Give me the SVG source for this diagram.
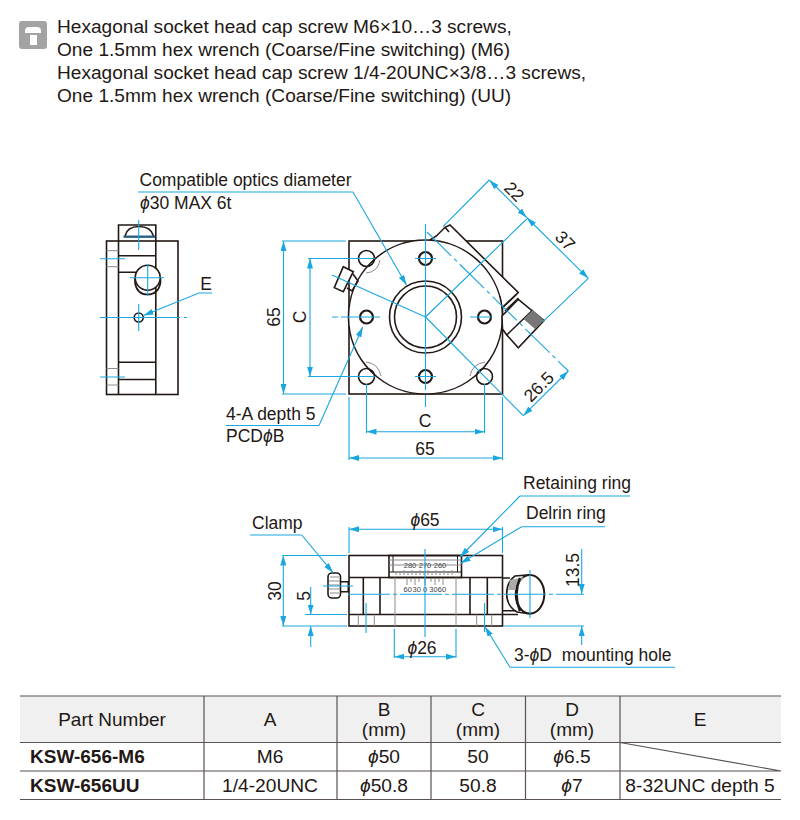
<svg xmlns="http://www.w3.org/2000/svg" width="800" height="820" viewBox="0 0 800 820">
<defs>
<marker id="a" viewBox="0 0 10 6" refX="10" refY="3" markerWidth="10" markerHeight="6" markerUnits="userSpaceOnUse" orient="auto-start-reverse"><path d="M0 0L10 3L0 6Z" fill="#1aa7e0"/></marker>
</defs>
<style>
text{font-family:"Liberation Sans",Arial,sans-serif;fill:#231815}
.t{font-size:19.100px}
.d{font-size:17.500px;white-space:pre}
.m{text-anchor:middle}
.s{font-size:7.500px;text-anchor:middle;fill:#444}
.h{font-size:19px;text-anchor:middle}
.c{font-size:19.200px;text-anchor:middle}
.b{font-size:19px;font-weight:bold}
.p{font-style:italic}
.k,.k *{fill:none;stroke:#231815;stroke-width:1.6}
.w{fill:#fff !important}
.g,.g *{fill:none;stroke:#8c8c8c;stroke-width:1}
.n{fill:none;stroke:#1aa7e0;stroke-width:1.1}
.ar{marker-start:url(#a);marker-end:url(#a)}
.ae{marker-end:url(#a)}
.tl{stroke:#5a5350;stroke-width:1.2;fill:none}
</style>
<rect width="800" height="820" fill="#fff"/>

<g id="note">
<rect x="19" y="21" width="28" height="28" rx="3" fill="#a3a3a3"/>
<path d="M25 33V31Q25 27 29 27H37Q41 27 41 31V33Z" fill="#fff"/>
<rect x="30" y="35" width="7" height="10" fill="#fff"/>
<text class="t" x="57" y="33">Hexagonal socket head cap screw M6×10…3 screws,</text>
<text class="t" x="57" y="55.500">One 1.5mm hex wrench (Coarse/Fine switching) (M6)</text>
<text class="t" x="57" y="79">Hexagonal socket head cap screw 1/4-20UNC×3/8…3 screws,</text>
<text class="t" x="57" y="101.500">One 1.5mm hex wrench (Coarse/Fine switching) (UU)</text>
</g>

<g id="side-view">
<g class="k">
<rect x="106.500" y="241" width="71.500" height="153.500"/>
<path d="M118.500 241V394.500M155.800 241V394.500M118.500 241V225H155.800V241"/>
<path d="M125 236Q127 226.500 139 226.500Q151 226.500 153.500 236"/>
<path d="M118.500 255.700H155.800M118.500 272.300H137M118.500 362.300H155.800M118.500 379.500H155.800"/>
<path d="M135 278V283Q137 294.500 147.700 294.500Q158 294.500 160.500 283V278"/>
<circle class="w" cx="147.700" cy="277.700" r="12.500"/>
<circle cx="138.700" cy="317.500" r="4.500"/>
</g>
<path d="M123.500 236.700H155" stroke="#2b5f83" stroke-width="2.400" fill="none"/>
<g class="g"><path d="M106.500 250.700H118.500M106.500 266.700H118.500M106.500 368.500H118.500M106.500 385H118.500"/></g>
</g>

<g id="top-view">
<g class="k">
<rect x="349" y="241" width="153.500" height="153"/>
<path class="w" d="M430 240L436.700 235.700L445 227.300L450 225L518.300 292.500L502 308L500 297Z"/>
<circle class="w" cx="425.500" cy="317" r="77"/>
<circle cx="425.500" cy="317" r="36" stroke-width="2.200"/>
<circle cx="425.500" cy="317" r="31" stroke-width="1.800"/>
<circle cx="366.500" cy="258.500" r="8"/>
<circle cx="366.500" cy="376.500" r="8"/>
<circle cx="484.500" cy="376.500" r="8"/>
<circle cx="425.500" cy="258.500" r="6.500" style="stroke-width:2.200"/>
<circle cx="366.500" cy="317" r="6.500" style="stroke-width:2.200"/>
<circle cx="484.500" cy="317" r="6.500" style="stroke-width:2.200"/>
<circle cx="425.500" cy="376.500" r="6.500" style="stroke-width:2.200"/>
<path d="M445 227.300L449 232"/>
<path d="M501.700 308.300L516.700 294M505 311L518.500 298"/>
<path class="w" d="M518.300 299.300L544 320.500L518.300 347.700L506.700 335L502.500 329L502 316Z"/>
<path d="M532.700 310L506.700 335"/>
<path class="w" d="M343.300 266.700L353.300 271.700L343.300 291.700L334.300 287.700Z"/>
<path d="M353 274L358 281L352 291L347 288"/>
</g>
<path d="M532.700 310L544 320.500L535 329L523.500 319Z" fill="#777"/>
<g class="g" style="stroke:#777"><path d="M366 273Q378 272 380 260"/><path d="M366 362Q378 363 381 376"/><path d="M470 376Q472 364 485 362"/></g>
</g>

<g id="front-view">
<g class="k">
<rect x="349" y="555.500" width="153.500" height="70.500"/>
<path d="M349 577.500H502.500M349 614.500H502.500M363.300 577.500V614.500M380 577.500V614.500M470 577.500V614.500M487.300 577.500V614.500"/>
<rect x="389" y="555.500" width="72.500" height="22"/>
<path d="M389 572H461.500M393 555.500V572M457.500 555.500V572" style="stroke-width:1"/>
<rect class="w" x="328" y="573" width="12.500" height="25" rx="4"/>
<path d="M340.500 581.700H348.300V591.700H340.500"/>
<path d="M502.500 578H510M502.500 610.700H518M502.500 614.500H518"/>
<path class="w" d="M530 574.800L515 576Q506.700 582 506.700 594Q506.700 606 517 612L530 613.800Z"/>
<ellipse class="w" cx="530" cy="594.300" rx="14.300" ry="19.300" style="stroke-width:2"/>
</g>
<path d="M510 580L524 577Q518 584 517 590L508 590Z" fill="#aaa"/>
<path d="M520 578Q513 594 520 611" fill="none" stroke="#231815" stroke-width="2.500"/>
<g class="g">
<path d="M389 560H461.500M389 565H461.500"/>
<path d="M395 577.500V626M456 577.500V626M358.300 614.500V626M374.300 614.500V626M476.700 614.500V626M491.700 614.500V626"/>
<path d="M396 575V571M400 575V572M404 575V570M408 575V572M412 575V570M416 575V572M420 575V570M424 575V572M428 575V570M432 575V572M436 575V570M440 575V572M444 575V570M448 575V572M452 575V570"/>
<path d="M407 578V585M411 578V582M415 578V585M419 578V582M425 578V585M431 578V582M435 578V585M439 578V582M443 578V585"/>
<path d="M330 577H339M329 581H340M329 585H340M329 589H340M330 593H339"/>
</g>
<text class="s" x="410" y="567.500">280</text>
<text class="s" x="425" y="567.500">270</text>
<text class="s" x="440" y="567.500">260</text>
<text class="s" x="407.700" y="591.500">60</text>
<text class="s" x="416.700" y="591.500">30</text>
<text class="s" x="425" y="591.500">0</text>
<text class="s" x="433.500" y="591.500">30</text>
<text class="s" x="442" y="591.500">60</text>
</g>

<g id="connectors">
<path class="n" d="M100 258.700H125M100 377H125M100 317.500H180M184 317.500H187M138.700 220V250M138.700 304V331M130 277.700H164M147.700 264V296"/>
<path class="n ae" d="M212 293H199L143.500 315.500"/>
<path class="n" d="M138 192H353"/>
<path class="n ae" d="M353 192L406.500 285"/>
<path class="n" d="M226 425.500H319"/>
<path class="n ae" d="M319 425.500L362.700 327"/>
<path class="n" d="M282 241H346M282 394H346M308 258.500H375M308 376.500H375M332 317H338M341 317H380M470 317H492M415 258.500H436M415 376.500H436M425.500 224V390M425.500 395V407M366.500 384V433M484.500 384V433M349 397V460M502.500 397V460"/>
<path class="n ar" d="M283.500 241V394"/>
<path class="n ar" d="M310 258.500V376.500"/>
<path class="n ar" d="M366.500 431.700H484.500"/>
<path class="n ar" d="M349 458H502.500"/>
<path class="n" d="M425.500 317L332 275M425.500 317L526.700 219M425.500 317L523.300 415.700"/>
<path class="n" d="M427 232L568.300 371" stroke-dasharray="34 4 4 4"/>
<path class="n" d="M443 226.700L489.300 180M543 321.700L588.300 278.300"/>
<path class="n ar" d="M489.300 180L526.700 217.500"/>
<path class="n ar" d="M526.700 217.500L588.300 278.300"/>
<path class="n ar" d="M568.300 371L523.300 415.700"/>
<path class="n" d="M349 527V553M502.500 527V553M282 555.500H347M282 626H347M305 614.500H347M503 626H584M394.300 628.700V658M456 628.700V658M425 549V637M323 586H353M366 603V633M484.500 603V632"/>
<path class="n" d="M348 594.300H584" stroke-dasharray="42 3 4 3"/>
<path class="n" d="M530 570V618"/>
<path class="n ar" d="M349 529.300H502.500"/>
<path class="n ar" d="M283.300 555.500V626"/>
<path class="n ae" d="M310.700 587V614.500"/>
<path class="n ae" d="M310.700 647V626"/>
<path class="n ae" d="M581.700 549V594"/>
<path class="n ae" d="M581.700 645V626"/>
<path class="n ar" d="M394.300 656.700H456"/>
<path class="n" d="M250 535H301.700"/>
<path class="n ae" d="M301.700 535L333 572.700"/>
<path class="n" d="M520 496H630"/>
<path class="n ae" d="M520 496L460 557"/>
<path class="n" d="M521.700 526.700H605"/>
<path class="n ae" d="M521.700 526.700L460.700 563.300"/>
<path class="n" d="M510 667.300H675"/>
<path class="n ae" d="M510 667.300L485 626.700"/>
</g>

<g id="labels">
<text class="d" x="139.500" y="186">Compatible optics diameter</text>
<text class="d" x="140" y="209"><tspan class="p">ϕ</tspan>30 MAX 6t</text>
<text class="d m" x="206" y="290">E</text>
<text class="d" x="226" y="420">4-A depth 5</text>
<text class="d" x="226" y="442">PCD<tspan class="p">ϕ</tspan>B</text>
<text class="d m" transform="translate(280 317) rotate(-90)">65</text>
<text class="d m" transform="translate(306 317) rotate(-90)">C</text>
<text class="d m" x="425" y="427">C</text>
<text class="d m" x="425" y="455">65</text>
<text class="d m" transform="translate(510 196) rotate(45)">22</text>
<text class="d m" transform="translate(561 245) rotate(45)">37</text>
<text class="d m" transform="translate(543 391) rotate(-45)">26.5</text>
<text class="d" x="523" y="489">Retaining ring</text>
<text class="d" x="526" y="519">Delrin ring</text>
<text class="d" x="252" y="529">Clamp</text>
<text class="d m" x="425" y="526"><tspan class="p">ϕ</tspan>65</text>
<text class="d m" transform="translate(281 591) rotate(-90)">30</text>
<text class="d m" transform="translate(310 596) rotate(-90)">5</text>
<text class="d m" transform="translate(579 570) rotate(-90)">13.5</text>
<text class="d m" x="422" y="654"><tspan class="p">ϕ</tspan>26</text>
<text class="d" x="514" y="661">3-<tspan class="p">ϕ</tspan>D  mounting hole</text>
</g>

<g id="table">
<rect x="20" y="696" width="761" height="46.500" fill="#f0f0f0"/>
<path class="tl" d="M20 696H781M20 742.500H781M20 771H781M20 799.500H781M204 696V799.500M337 696V799.500M431 696V799.500M525.500 696V799.500M620 696V799.500M620 742.500L781 771"/>
<text class="h" x="112" y="726">Part Number</text>
<text class="h" x="270" y="726">A</text>
<text class="h" x="384" y="716">B</text><text class="h" x="384" y="736">(mm)</text>
<text class="h" x="478" y="716">C</text><text class="h" x="478" y="736">(mm)</text>
<text class="h" x="572" y="716">D</text><text class="h" x="572" y="736">(mm)</text>
<text class="h" x="700" y="726">E</text>
<text class="b" x="30" y="763">KSW-656-M6</text>
<text class="c" x="270" y="763">M6</text>
<text class="c" x="384" y="763"><tspan class="p">ϕ</tspan>50</text>
<text class="c" x="478" y="763">50</text>
<text class="c" x="572" y="763"><tspan class="p">ϕ</tspan>6.5</text>
<text class="b" x="30" y="792">KSW-656UU</text>
<text class="c" x="270" y="792">1/4-20UNC</text>
<text class="c" x="384" y="792"><tspan class="p">ϕ</tspan>50.8</text>
<text class="c" x="478" y="792">50.8</text>
<text class="c" x="572" y="792"><tspan class="p">ϕ</tspan>7</text>
<text class="c" x="700" y="792">8-32UNC depth 5</text>
</g>
</svg>
